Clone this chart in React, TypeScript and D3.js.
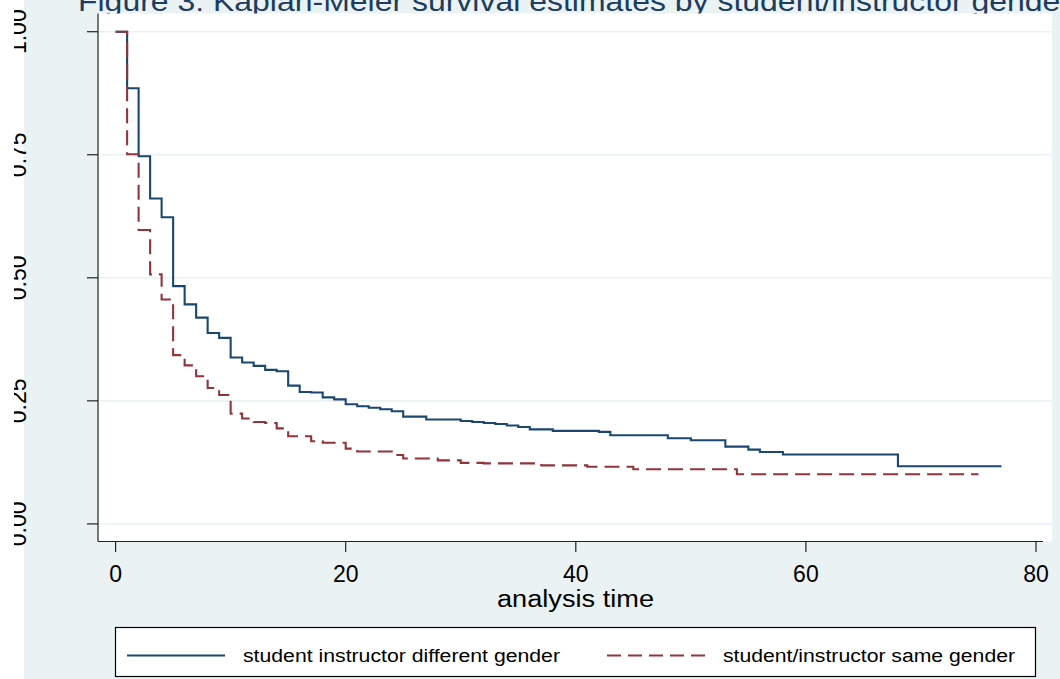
import * as d3 from "d3";
import React from "react";

// Kaplan-Meier step estimates
const diffTimes = [0, 1, 2, 3, 4, 5, 6, 7, 8, 9, 10, 11, 12, 13, 14, 15, 16, 17, 18, 19, 20, 21, 22, 23, 24, 25, 27, 30, 31, 32, 33, 34, 35, 36, 38, 42, 43, 48, 50, 53, 55, 56, 58, 68, 77];
const diffSurv = [1, 0.885, 0.747, 0.661, 0.623, 0.483, 0.446, 0.419, 0.388, 0.378, 0.338, 0.328, 0.321, 0.313, 0.31, 0.281, 0.268, 0.267, 0.257, 0.253, 0.243, 0.239, 0.236, 0.233, 0.229, 0.218, 0.212, 0.209, 0.207, 0.205, 0.203, 0.2, 0.197, 0.192, 0.189, 0.187, 0.18, 0.174, 0.17, 0.157, 0.151, 0.146, 0.141, 0.117, 0.117];

const sameTimes = [0, 1, 2, 3, 4, 5, 6, 7, 8, 9, 10, 11, 12, 13, 14, 15, 17, 18, 20, 21, 24, 25, 28, 30, 32, 37, 41, 45, 54, 75];
const sameSurv = [1, 0.751, 0.597, 0.507, 0.456, 0.343, 0.322, 0.3, 0.276, 0.262, 0.224, 0.214, 0.207, 0.205, 0.194, 0.178, 0.168, 0.165, 0.153, 0.147, 0.14, 0.133, 0.129, 0.124, 0.123, 0.119, 0.116, 0.111, 0.101, 0.101];

const xTicks = [0, 20, 40, 60, 80];
const yTicks = [0, 0.25, 0.5, 0.75, 1];

const seriesNames = [
  "student instructor different gender",
  "student/instructor same gender",
];
const titleText = "Figure 3: Kaplan-Meier survival estimates by student/instructor gender";
const xTitle = "analysis time";

const W = 1060;
const H = 679;
const BG = "#EAF2F3";
const BLUE = "#1A476F";
const RED = "#90353B";
const FONT = "'Liberation Sans', Arial, sans-serif";

const plot = { left: 98, right: 1052, top: 13.5, bottom: 541.5 };

export default function App() {
  const x = d3.scaleLinear().domain([0, 80]).range([115.6, 1036]);
  const y = d3.scaleLinear().domain([0, 1]).range([523.9, 31.7]);

  const line = d3
    .line<[number, number]>()
    .x((d) => x(d[0]))
    .y((d) => y(d[1]))
    .curve(d3.curveStepAfter);

  const diffPath = line(diffTimes.map((t, i) => [t, diffSurv[i]]));
  const samePath = line(sameTimes.map((t, i) => [t, sameSurv[i]]));

  return (
    <div style={{ position: "absolute", left: 0, top: 0 }}>
      <svg width={W} height={H} style={{ display: "block" }} fontFamily={FONT}>
        <defs>
          <clipPath id="ylab">
            <rect x={14} y={0} width={14} height={H} />
          </clipPath>
        </defs>
        <rect x={0} y={0} width={W} height={H} fill={BG} />
        <rect x={0} y={0} width={24} height={H} fill="#fff" />

        {/* title, cut at top and right like the source image */}
        <text x={78} y={11} fontSize={27} fill="#1c3c60" textLength={993} lengthAdjust="spacingAndGlyphs">
          {titleText}
        </text>

        {/* plot region */}
        <rect
          x={plot.left}
          y={plot.top}
          width={plot.right - plot.left}
          height={plot.bottom - plot.top}
          fill="#fff"
        />
        {yTicks.map((t) => (
          <line
            key={"g" + t}
            x1={plot.left}
            x2={plot.right}
            y1={y(t)}
            y2={y(t)}
            stroke={BG}
            strokeWidth={1.6}
          />
        ))}

        {/* curves */}
        <path d={diffPath ?? ""} fill="none" stroke={BLUE} strokeWidth={2.1} />
        <path
          d={samePath ?? ""}
          fill="none"
          stroke={RED}
          strokeWidth={2.1}
          strokeDasharray="15,7"
        />

        {/* axes */}
        <line x1={plot.left} x2={plot.left} y1={plot.top} y2={plot.bottom} stroke="#222" strokeWidth={1.2} />
        <line x1={plot.left} x2={1043} y1={plot.bottom} y2={plot.bottom} stroke="#222" strokeWidth={1.2} />
        {yTicks.map((t) => (
          <line key={"yt" + t} x1={87} x2={plot.left} y1={y(t)} y2={y(t)} stroke="#222" strokeWidth={1.2} />
        ))}
        {xTicks.map((t) => (
          <g key={"xt" + t}>
            <line x1={x(t)} x2={x(t)} y1={plot.bottom} y2={552} stroke="#222" strokeWidth={1.2} />
            <text x={x(t)} y={582} fontSize={23} textAnchor="middle" fill="#000">
              {t}
            </text>
          </g>
        ))}
        <g clipPath="url(#ylab)">
          {yTicks.map((t) => (
            <text
              key={"yl" + t}
              transform={`translate(26,${y(t)}) rotate(-90)`}
              fontSize={23}
              textAnchor="middle"
              fill="#000"
            >
              {d3.format(".2f")(t)}
            </text>
          ))}
        </g>
        <text x={497} y={607} fontSize={23} fill="#000" textLength={157} lengthAdjust="spacingAndGlyphs">
          {xTitle}
        </text>

        {/* legend */}
        <rect x={115.5} y={627.5} width={920} height={49} fill="#fff" stroke="#000" strokeWidth={1.2} />
        <line x1={127} x2={225} y1={655.5} y2={655.5} stroke={BLUE} strokeWidth={2.1} />
        <text x={243} y={662} fontSize={18} fill="#000" textLength={317} lengthAdjust="spacingAndGlyphs">
          {seriesNames[0]}
        </text>
        <line x1={607} x2={705} y1={655.5} y2={655.5} stroke={RED} strokeWidth={2.1} strokeDasharray="14,7" />
        <text x={723} y={662} fontSize={18} fill="#000" textLength={292} lengthAdjust="spacingAndGlyphs">
          {seriesNames[1]}
        </text>
      </svg>
    </div>
  );
}
